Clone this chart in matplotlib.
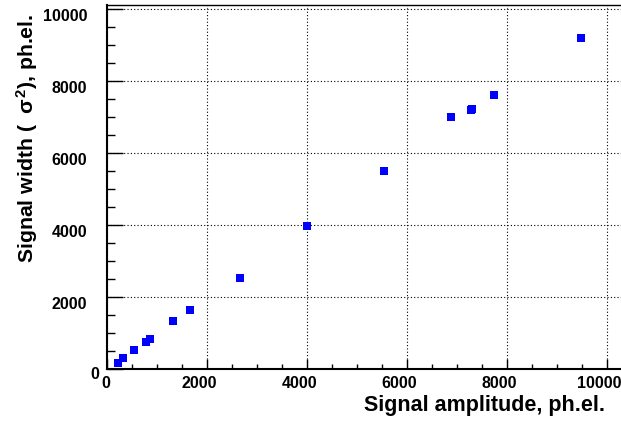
import matplotlib
matplotlib.use("Agg")
import matplotlib.pyplot as plt
from matplotlib.ticker import MultipleLocator
from matplotlib.transforms import ScaledTranslation

# signal amplitude vs signal width (sigma^2), both in ph.el.
amplitude = [208, 314, 538, 768, 858, 1314, 1660, 2654, 4000,
             5547, 6880, 7275, 7295, 7747, 9473]
width = [183, 305, 536, 750, 828, 1350, 1639, 2544, 3980,
         5500, 7022, 7205, 7220, 7611, 9203]

x_ticks = [0, 2000, 4000, 6000, 8000, 10000]
y_ticks = [0, 2000, 4000, 6000, 8000, 10000]

plt.rcParams['font.family'] = ['Liberation Sans', 'DejaVu Sans']
plt.rcParams['font.weight'] = 'bold'
plt.rcParams['mathtext.fontset'] = 'custom'
plt.rcParams['mathtext.rm'] = 'Liberation Sans:bold'
plt.rcParams['mathtext.it'] = 'Liberation Sans:bold'

W, H = 621, 421
fig = plt.figure(figsize=(W / 100, H / 100), dpi=100)
# axes frame in pixels: left 107, right beyond image, bottom 369, top 5
ax = fig.add_axes([107.3 / W, 1 - 369.3 / H, (W - 107.3) / W, (369.3 - 5) / H])

ax.plot(amplitude, width, linestyle='none', marker='s', markersize=6,
        color='#0000ff', markeredgewidth=0, zorder=3)

ax.set_xlim(0, 10280)
ax.set_ylim(0, 10120)
ax.xaxis.set_major_locator(MultipleLocator(2000))
ax.xaxis.set_minor_locator(MultipleLocator(500))
ax.yaxis.set_major_locator(MultipleLocator(2000))
ax.yaxis.set_minor_locator(MultipleLocator(500))

ax.grid(True, which='major', color='black', linestyle=(0, (1, 2)), linewidth=0.8)
ax.set_axisbelow(True)

for s in ['left', 'bottom']:
    ax.spines[s].set_linewidth(1.5)
ax.spines['top'].set_linewidth(1.0)
ax.spines['right'].set_visible(False)

ax.tick_params(axis='both', which='both', direction='in', width=1.0,
               top=False, right=False, labelbottom=False, labelleft=False)
ax.tick_params(axis='x', which='major', length=7.2)
ax.tick_params(axis='x', which='minor', length=3.8)
ax.tick_params(axis='y', which='major', length=11.5)
ax.tick_params(axis='y', which='minor', length=5.8)


def px(dx, dy):
    # shift in pixels (dy positive = down)
    return ScaledTranslation(dx / 100, -dy / 100, fig.dpi_scale_trans)


# tick labels placed like ROOT does (slightly off the ticks)
for v in x_ticks:
    dx = -1 if v == 0 else -8
    ax.text(v, 0, str(v), transform=ax.transData + px(dx, 6.5),
            ha='center', va='top', fontsize=11.5, fontweight='bold')
for v in y_ticks:
    if v == 0:
        ax.text(0, v, str(v), transform=ax.transData + px(-12, 5.5),
                ha='center', va='center', fontsize=11.5, fontweight='bold')
    else:
        ax.text(0, v, str(v), transform=ax.transData + px(-20, 7),
                ha='right', va='center', fontsize=11.5, fontweight='bold')

fig.text(605 / W, 1 - 405 / H, 'Signal amplitude, ph.el.', ha='right',
         va='center', fontsize=15.5, fontweight='bold')
fig.text(27 / W, 1 - 14 / H, r'Signal width (  $\sigma^{2}$), ph.el.',
         rotation=90, ha='center', va='top', fontsize=15.3, fontweight='bold')

fig.savefig('out.png', dpi=100)
